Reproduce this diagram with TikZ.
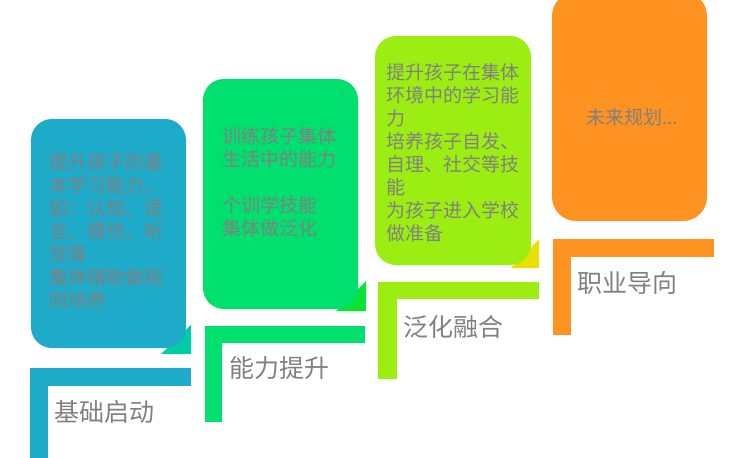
\documentclass[tikz,border=0pt]{standalone}
\usepackage{fontspec}
\setmainfont{Noto Sans CJK SC}
\usepackage{tikz}
\usetikzlibrary{positioning}

\definecolor{stepblue}{HTML}{1DABC9}
\definecolor{stepgreen}{HTML}{00E06E}
\definecolor{steplime}{HTML}{9CEE12}
\definecolor{steporange}{HTML}{FF9322}
\definecolor{tipteal}{HTML}{00CCA8}
\definecolor{tipgreen}{HTML}{0CE234}
\definecolor{tipyellow}{HTML}{E8E000}
\definecolor{textgray}{HTML}{808080}

\begin{document}
\begin{tikzpicture}[x=1pt,y=-1pt,
    boxtext/.style={anchor=north west, inner sep=0pt, align=left, text=textgray,
        font=\fontsize{19}{23}\selectfont},
    steplabel/.style={anchor=west, inner sep=0pt, text=textgray,
        font=\fontsize{25}{30}\selectfont}]
        \useasboundingbox (0,0) rectangle (750,458);
        % Primer paso
        \fill[tipteal] (191,325) -- (191,354) -- (161,354) -- cycle;
        \fill[stepblue, rounded corners=21] (31,119) rectangle (186,348);
        \fill[stepblue] (30,368) rectangle (191,386); % barra horizontal
        \fill[stepblue] (30,368) rectangle (48,460); % barra vertical
        \node[boxtext] (texto1) at (49,153) {提升孩子的基\\本学习能力，\\如：认知、语\\言、模仿、听\\觉等\\集体辅助做规\\则培养};
        \node[steplabel] (paso1) at (54,412) {基础启动};
        % Segundo paso
        \fill[tipgreen] (366,281) -- (366,311) -- (336,311) -- cycle;
        \fill[stepgreen, rounded corners=21] (203,79) rectangle (358,309);
        \fill[stepgreen] (205,326) rectangle (365,343);
        \fill[stepgreen] (205,326) rectangle (222,422);
        \node[boxtext] (texto2) at (222,127.5) {训练孩子集体\\生活中的能力\\[23pt]个训学技能\\集体做泛化};
        \node[steplabel] (paso2) at (229,368) {能力提升};
        % Tercer paso
        \fill[tipyellow] (539,239) -- (539,268) -- (511,268) -- cycle;
        \fill[steplime, rounded corners=21] (375,36) rectangle (531,265);
        \fill[steplime] (378,282) rectangle (539,299);
        \fill[steplime] (378,282) rectangle (397,379);
        \node[boxtext] (texto3) at (386,63.5) {提升孩子在集体\\环境中的学习能\\力\\培养孩子自发、\\自理、社交等技\\能\\为孩子进入学校\\做准备};
        \node[steplabel] (paso3) at (403,327) {泛化融合};
        % Cuarto paso
        \fill[steporange, rounded corners=24] (552,-8) rectangle (707,221);
        \fill[steporange] (553,239) rectangle (714,257);
        \fill[steporange] (553,239) rectangle (571,335);
        \node[text=textgray, inner sep=0pt, font=\fontsize{19}{23}\selectfont] (texto4) at (632,117) {未来规划...};
        \node[steplabel] (paso4) at (577,283) {职业导向};
\end{tikzpicture}
\end{document}
